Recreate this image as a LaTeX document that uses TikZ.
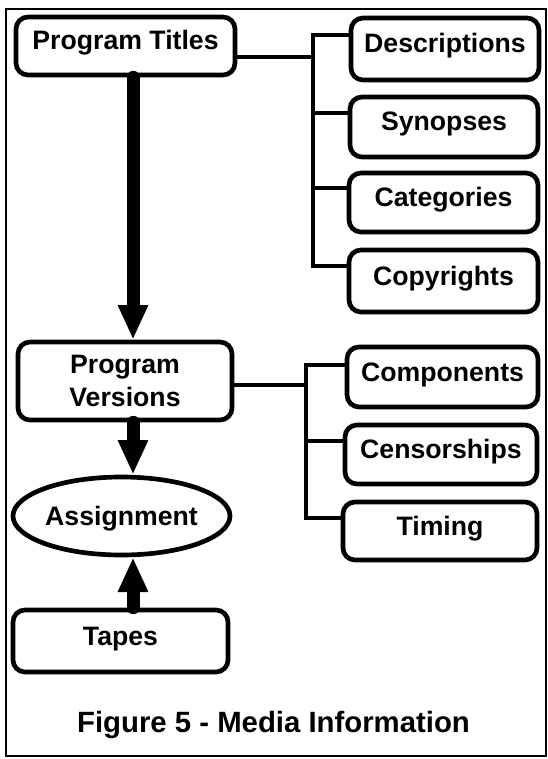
\documentclass[tikz,border=0pt]{standalone}
\usepackage{fontspec}
\setmainfont{Liberation Sans}
\usetikzlibrary{arrows.meta,shapes.geometric,calc}

\begin{document}
\begin{tikzpicture}[x=0.75pt,y=-0.75pt,
  every node/.style={font=\bfseries\fontsize{20}{25}\selectfont},
  sz/.style 2 args={minimum width=#1*0.75pt, minimum height=#2*0.75pt},
  frame/.style={draw, line width=3.5pt, rounded corners=9pt, inner sep=0pt},
  box/.style={frame, text height=15pt, text depth=9pt},
  oval/.style={draw, ellipse, line width=3.5pt, inner sep=0pt, text height=14.3pt, text depth=0pt},
  link/.style={line width=3pt, line join=miter},
  heavy/.style={line width=9.75pt, line cap=round, -{Triangle[width=21pt,length=26pt]}},
  border/.style={line width=1.1pt},
]
\useasboundingbox (0,0) rectangle (548,759);

% outer frame
\draw[border] (6,9) rectangle (546,756);

% left column
\node[box, sz={219}{58}] (pt) at (125.5,46) {Program Titles};
\node[frame, sz={214}{78}, align=center] (pv) at (125,381) {Program\\Versions};
\node[oval, sz={217}{78}] (as) at (121.5,516) {Assignment};
\node[box, sz={215}{62}] (tp) at (120.5,641) {Tapes};

% attributes of program titles
\node[box, sz={188}{62}] (desc) at (445,49) {Descriptions};
\node[box, sz={188}{60}] (syn) at (444,127) {Synopses};
\node[box, sz={189}{59}] (cat) at (443.5,202.5) {Categories};
\node[box, sz={189}{62}] (copy) at (443.5,281) {Copyrights};

% attributes of program versions
\node[box, sz={191}{60}] (comp) at (442.5,377) {Components};
\node[box, sz={192}{59}] (cens) at (441,454.5) {Censorships};
\node[box, sz={194}{58}] (tim) at (440,531) {Timing};

% caption
\node[font=\bfseries\fontsize{22}{26}\selectfont] (cap) at (273.5,725) {Figure 5 - Media Information};

% junctions and branch points
\coordinate (ax) at (133,0);
\coordinate (j1) at (313,57);
\coordinate (j2) at (306,385);
\coordinate (d1) at ($(desc.north west)+(0,19)$);
\coordinate (s1) at ($(syn.north west)+(0,18)$);
\coordinate (k1) at ($(cat.north west)+(0,17)$);
\coordinate (c1) at ($(copy.north west)+(0,18)$);
\coordinate (m1) at ($(comp.north west)+(0,20)$);
\coordinate (m2) at ($(cens.north west)+(0,18)$);
\coordinate (m3) at ($(tim.north west)+(0,18)$);

% upper tree
\draw[link] (pt.east |- j1) -- (j1);
\draw[link] (d1) -- (d1 -| j1) -- (c1 -| j1) -- (c1);
\draw[link] (s1 -| j1) -- (s1);
\draw[link] (k1 -| j1) -- (k1);

% lower tree
\draw[link] (pv.east |- j2) -- (j2);
\draw[link] (m1) -- (m1 -| j2) -- (m3 -| j2) -- (m3);
\draw[link] (m2 -| j2) -- (m2);

% heavy arrows
\draw[heavy] (ax |- pt.south) -- (ax |- pv.north);
\draw[heavy] (ax |- pv.south) -- (ax |- as.north);
\draw[heavy] (ax |- tp.north) -- (ax |- as.south);
\end{tikzpicture}
\end{document}
